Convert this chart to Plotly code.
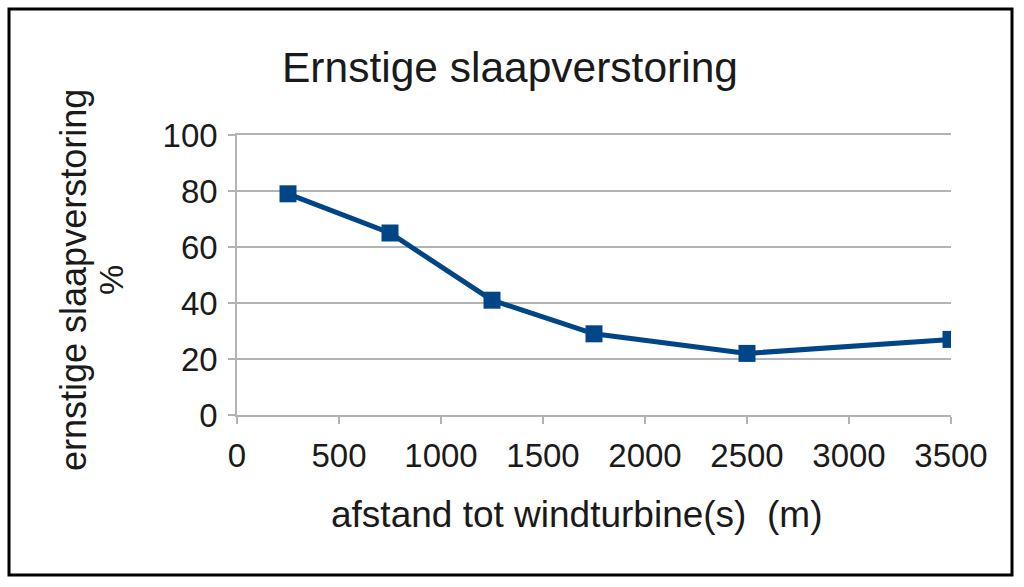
import plotly.graph_objects as go

distance_m = [250, 750, 1250, 1750, 2500, 3500]
severe_pct = [79, 65, 41, 29, 22, 27]
x_ticks = [0, 500, 1000, 1500, 2000, 2500, 3000, 3500]
y_ticks = [0, 20, 40, 60, 80, 100]

title_text = "Ernstige slaapverstoring"
x_title = "afstand tot windturbine(s)  (m)"
y_title_1 = "ernstige slaapverstoring"
y_title_2 = "%"

W, H = 1024, 587
L, R, T, B = 237, 73, 135, 172
PW, PH = W - L - R, H - T - B

def px(x):
    return (x - L) / PW

def py(y):
    return (H - B - y) / PH

FONT = "Liberation Sans, Arial, sans-serif"
NAVY = "#004586"
GRID = "#b3b3b3"
TXT = "#1a1a1a"

fig = go.Figure()
fig.add_trace(go.Scatter(
    x=distance_m, y=severe_pct, mode="lines+markers",
    line=dict(color=NAVY, width=5),
    marker=dict(symbol="square", size=17, color=NAVY),
    showlegend=False, hoverinfo="x+y",
))

fig.update_layout(
    width=W, height=H,
    margin=dict(l=L, r=R, t=T, b=B, pad=0),
    paper_bgcolor="white", plot_bgcolor="white",
    font=dict(family=FONT, color=TXT),
    xaxis=dict(range=[0, 3500], tickvals=x_ticks, showgrid=False,
               showline=True, linecolor=GRID, linewidth=1.5, mirror=True,
               ticks="outside", ticklen=7, tickcolor=GRID, tickwidth=1.5,
               ticklabelstandoff=4,
               tickfont=dict(size=33, family=FONT, color=TXT),
               zeroline=False, fixedrange=True),
    yaxis=dict(range=[0, 100], tickvals=y_ticks, showgrid=True,
               gridcolor=GRID, gridwidth=1.5,
               showline=True, linecolor=GRID, linewidth=1.5,
               ticks="outside", ticklen=7, tickcolor=GRID, tickwidth=1.5,
               ticklabelstandoff=4,
               tickfont=dict(size=33, family=FONT, color=TXT),
               zeroline=False, fixedrange=True),
    annotations=[
        dict(text=title_text, xref="paper", yref="paper", x=px(510), y=py(68),
             xanchor="center", yanchor="middle", showarrow=False,
             font=dict(size=42.5, family=FONT, color=TXT)),
        dict(text=x_title, xref="paper", yref="paper", x=px(576), y=py(514),
             xanchor="center", yanchor="middle", showarrow=False,
             font=dict(size=37, family=FONT, color=TXT)),
        dict(text=y_title_1, xref="paper", yref="paper", x=px(73), y=py(280),
             xanchor="center", yanchor="middle", showarrow=False, textangle=-90,
             font=dict(size=36, family=FONT, color=TXT)),
        dict(text=y_title_2, xref="paper", yref="paper", x=px(111), y=py(280),
             xanchor="center", yanchor="middle", showarrow=False, textangle=-90,
             font=dict(size=34, family=FONT, color=TXT)),
    ],
    shapes=[
        dict(type="rect", xref="paper", yref="paper",
             x0=px(9), x1=px(1012), y0=py(575), y1=py(9),
             line=dict(color="black", width=3), layer="below"),
    ],
)

fig.write_html("out.html", config={"displayModeBar": False},
               post_script="document.body.style.margin='0px';")
